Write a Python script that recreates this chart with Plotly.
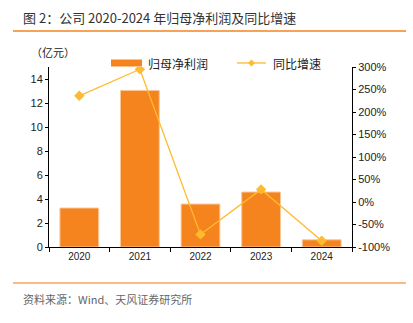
import plotly.graph_objects as go

years = ["2020", "2021", "2022", "2023", "2024"]
profit = [3.25, 13.05, 3.58, 4.58, 0.6]
growth = [236, 295, -72, 28, -86]

left_ticks = [0, 2, 4, 6, 8, 10, 12, 14]
right_ticks = [-100, -50, 0, 50, 100, 150, 200, 250, 300]
right_labels = ["-100%", "-50%", "0%", "50%", "100%", "150%", "200%", "250%", "300%"]

BAR = "#F5841F"
LINE = "#FDBB2D"
FONT = "Liberation Sans, Noto Sans CJK SC, sans-serif"
CJK = "Noto Sans CJK SC, sans-serif"

# plot area in pixels: x 49..352, y 67..247
L, R, T, B = 49, 352, 67, 247
def px(x):
    return (x - L) / (R - L)
def py(y):
    return (B - y) / (B - T)

fig = go.Figure()
fig.add_trace(go.Bar(x=years, y=profit, name="归母净利润",
                     marker=dict(color=BAR, line=dict(color="#FBC89A", width=1)),
                     width=0.64, yaxis="y", showlegend=False))
fig.add_trace(go.Scatter(x=years, y=growth, name="同比增速", mode="lines+markers",
                         line=dict(color=LINE, width=1.3),
                         marker=dict(symbol="diamond", size=8, color=LINE), yaxis="y2", showlegend=False))

ly = py(63)
shapes = [
    dict(type="line", xref="paper", yref="paper", x0=px(13), x1=px(406), y0=py(31), y1=py(31),
         line=dict(color="#F5841F", width=1.5)),
    dict(type="line", xref="paper", yref="paper", x0=px(13), x1=px(406), y0=py(283), y1=py(283),
         line=dict(color="#F8A35E", width=1.5)),
    # legend swatch: bar
    dict(type="rect", xref="paper", yref="paper", x0=px(111), x1=px(142), y0=py(66.5), y1=py(59.5),
         fillcolor=BAR, line=dict(width=0)),
    # legend swatch: line
    dict(type="line", xref="paper", yref="paper", x0=px(237), x1=px(266), y0=ly, y1=ly,
         line=dict(color=LINE, width=1.3)),
    dict(type="path", xref="paper", yref="paper",
         path=f"M {px(251.5)} {py(59.5)} L {px(255)} {ly} L {px(251.5)} {py(66.5)} L {px(248)} {ly} Z",
         fillcolor=LINE, line=dict(width=0)),
]

fig.update_layout(
    width=413, height=323,
    margin=dict(l=L, r=413 - R, t=T, b=323 - B),
    paper_bgcolor="white", plot_bgcolor="white",
    font=dict(family=FONT, size=10, color="#222"),
    showlegend=False,
    bargap=0.36,
    xaxis=dict(type="category", showline=True, linecolor="black", linewidth=1,
               ticks="outside", ticklen=4, tickcolor="black", tickson="boundaries",
               showgrid=False, tickfont=dict(size=10, color="#222")),
    yaxis=dict(range=[0, 15], tickvals=left_ticks, showline=True, linecolor="black", linewidth=1,
               ticks="outside", ticklen=3, tickcolor="black", showgrid=False, zeroline=False,
               tickfont=dict(size=11, color="#222")),
    yaxis2=dict(range=[-100, 300], tickvals=right_ticks, ticktext=right_labels, overlaying="y", side="right",
                showline=True, linecolor="black", linewidth=1, ticks="outside", ticklen=3, tickcolor="black",
                showgrid=False, zeroline=False, tickfont=dict(size=11, color="#222")),
    shapes=shapes,
    annotations=[
        dict(text="图 2：公司 2020-2024 年归母净利润及同比增速", xref="paper", yref="paper",
             x=px(21), y=py(17), xanchor="left", yanchor="middle", showarrow=False,
             font=dict(family=CJK, size=13, color="#333")),
        dict(text="（亿元）", xref="paper", yref="paper", x=px(29), y=py(52), xanchor="left", yanchor="middle",
             showarrow=False, font=dict(family=CJK, size=11, color="#222")),
        dict(text="归母净利润", xref="paper", yref="paper", x=px(146), y=ly, xanchor="left", yanchor="middle",
             showarrow=False, font=dict(family=CJK, size=12, color="#222")),
        dict(text="同比增速", xref="paper", yref="paper", x=px(271), y=ly, xanchor="left", yanchor="middle",
             showarrow=False, font=dict(family=CJK, size=12, color="#222")),
        dict(text="资料来源：Wind、天风证券研究所", xref="paper", yref="paper", x=px(21), y=py(299),
             xanchor="left", yanchor="middle", showarrow=False, font=dict(family=CJK, size=11, color="#666")),
    ],
)

fig.write_html("out.html")
